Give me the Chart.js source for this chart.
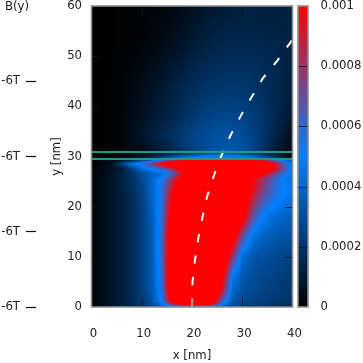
<!DOCTYPE html>
<html><head><meta charset="utf-8">
<style>html,body{margin:0;padding:0;background:#fff}canvas{display:block}</style>
<script src="https://cdn.jsdelivr.net/npm/chart.js@4"></script>
</head><body><canvas id="c" width="363" height="363"></canvas>
<script>
const colX = [0,2,4,6,8,10,12,14,16,18,20,22,24,26,28,30,32,34,36,38,40];
const rowY = [0,0.5,1,3,6,10,14,18,22,24,25.5,26.5,27.5,28.6,29.2,29.7,30.5,31.5,34,38,44,52,60];
// intensity in units of 1e-5, one row per rowY entry
const intensity = [
[1,3,6,10,14,20,26,34,42,50,55,52,46,36,28,24,22,20,18,16,15],
[2,4,8,12,16,21,29,42,72,98,108,104,92,48,30,26,24,22,20,18,17],
[2,4,8,12,16,22,31,50,105,125,130,130,115,60,33,28,26,24,22,21,20],
[2,4,8,12,17,24,34,56,125,150,160,155,135,88,40,31,28,26,24,22,21],
[2,4,8,12,17,24,35,58,130,160,170,170,150,105,48,34,30,28,26,24,22],
[2,4,8,12,17,24,35,60,130,165,180,180,170,130,80,42,34,31,29,27,25],
[2,4,8,12,17,24,35,60,125,165,185,190,185,165,115,70,45,38,35,33,31],
[2,4,8,12,17,24,36,58,112,160,185,195,195,180,150,110,70,50,42,39,37],
[2,4,8,12,17,25,38,56,100,150,180,195,195,185,160,115,92,70,58,50,44],
[2,4,8,12,18,26,39,56,88,130,170,190,195,185,160,125,98,78,62,52,47],
[2,4,8,12,19,28,40,52,80,115,160,185,190,185,165,130,100,82,64,50,42],
[2,4,8,12,19,28,36,42,60,92,125,160,180,185,170,150,125,100,78,58,44],
[1,3,6,10,24,40,52,60,80,108,140,170,180,185,175,160,145,130,105,72,48],
[1,3,6,25,45,58,75,105,140,165,175,180,180,180,175,160,145,125,100,70,42],
[0,2,4,8,16,28,40,60,80,95,105,110,112,112,110,105,100,90,70,50,30],
[0,1,2,4,8,12,18,26,36,46,52,58,60,60,58,52,46,38,26,15,7],
[0,1,1,2,3,5,8,12,17,22,27,31,34,36,36,33,28,21,13,7,2],
[0,0,1,2,3,5,8,11,15,20,24,28,31,33,34,32,27,20,13,8,3],
[0,0,1,2,5,8,12,15,19,23,26,29,31,32,32,30,26,21,15,10,5],
[0,0,1,2,4,6,9,12,15,18,21,24,26,27,27,26,24,21,17,13,9],
[0,0,1,1,3,5,7,9,12,15,17,19,20,21,21,21,20,18,16,14,11],
[0,0,0,1,1,2,3,4,6,8,10,12,14,15,16,16,16,15,15,14,13],
[0,0,0,1,1,1,2,2,3,4,6,7,9,10,11,12,12,12,12,12,12]
];
const pathX = [20,20.1,20.6,21.25,22.1,23,24.4,25.9,27.7,29.7,31.9,34.1,36.9,39.5,40];
const pathY = [0,5,9.4,13.7,18,22,26.3,30.3,34.3,38.1,41.9,45.6,49,52.6,53.4];
const lineLow = 29.5, lineHigh = 30.9;
const xTicks = [0,10,20,30,40];
const yTicks = [0,10,20,30,40,50,60];
const bTicks = [0,15,30,45];
const bLabel = '-6T', bTitle = 'B(y)';
const cbTicks = [0,0.0002,0.0004,0.0006,0.0008,0.001];
const cbLabels = ['0','0.0002','0.0004','0.0006','0.0008','0.001'];
const UNIT = 1e-5, FONT = 'DejaVu Sans';

function colour(v){
  const t = Math.max(0, Math.min(1, v/0.001));
  if (t < 0.5) { const s = t/0.5; return [0, 128*s, 255*s]; }
  const s = (t-0.5)/0.5; return [255*s, 128*(1-s), 255*(1-s)];
}
function seg(a, q){
  let i = 0; while (i < a.length-2 && q > a[i+1]) i++;
  return [i, Math.max(0, Math.min(1, (q-a[i])/(a[i+1]-a[i])))];
}
function sample(x, y){
  const [i,u] = seg(colX, x), [j,w] = seg(rowY, y);
  const r0 = intensity[j], r1 = intensity[j+1];
  return ((r0[i]*(1-u)+r0[i+1]*u)*(1-w) + (r1[i]*(1-u)+r1[i+1]*u)*w)*UNIT;
}
const frame = '#8e8e8e', tickInk = 'rgba(10,20,30,0.85)';
const painter = {
  id:'painter',
  beforeDatasetsDraw(ch){
    const {ctx, chartArea:a, scales:s} = ch;
    const L=Math.round(a.left), T=Math.round(a.top), W=Math.round(a.right)-L, H=Math.round(a.bottom)-T;
    const off=document.createElement('canvas'); off.width=W; off.height=H;
    const oc=off.getContext('2d'), im=oc.createImageData(W,H);
    for(let py=0;py<H;py++){
      const yv=s.y.getValueForPixel(T+py+0.5);
      for(let px=0;px<W;px++){
        const c=colour(sample(s.x.getValueForPixel(L+px+0.5),yv)), k=(py*W+px)*4;
        im.data[k]=c[0];im.data[k+1]=c[1];im.data[k+2]=c[2];im.data[k+3]=255;
      }
    }
    oc.putImageData(im,0,0); ctx.drawImage(off,L,T);
  },
  afterDatasetsDraw(ch){
    const {ctx, chartArea:a, scales:s} = ch;
    const barL=298, barR=308;
    ctx.save();
    for(let py=Math.round(a.top);py<Math.round(a.bottom);py++){
      const c=colour(s.cb.getValueForPixel(py+0.5));
      ctx.fillStyle=`rgb(${c[0]},${c[1]},${c[2]})`;
      ctx.fillRect(barL,py,barR-barL,1);
    }
    ctx.strokeStyle=tickInk; ctx.lineWidth=1;
    ctx.beginPath();
    cbTicks.slice(1,-1).forEach(v=>{const p=Math.round(s.cb.getPixelForValue(v))+0.5;ctx.moveTo(barL,p);ctx.lineTo(barR,p);});
    xTicks.slice(1,-1).forEach(v=>{
      const p=Math.round(s.x.getPixelForValue(v))+0.5;
      ctx.moveTo(p,a.top);ctx.lineTo(p,a.top+10);
      if(v!==20){ctx.moveTo(p,a.bottom);ctx.lineTo(p,a.bottom-10);}
    });
    yTicks.slice(1,-1).forEach(v=>{
      const p=Math.round(s.y.getPixelForValue(v))+0.5;
      ctx.moveTo(a.left,p);ctx.lineTo(a.left+7,p);
      ctx.moveTo(a.right,p);ctx.lineTo(a.right-7,p);
    });
    ctx.stroke();
    ctx.strokeStyle='#9a9a9a'; ctx.lineWidth=2;
    ctx.beginPath();
    const p20=Math.round(s.x.getPixelForValue(20));
    ctx.moveTo(p20,a.bottom);ctx.lineTo(p20,a.bottom-8);ctx.stroke();
    ctx.strokeStyle=frame; ctx.lineWidth=1.6;
    ctx.strokeRect(a.left,a.top,a.right-a.left,a.bottom-a.top);
    ctx.strokeRect(barL,a.top,barR-barL,a.bottom-a.top);
    ctx.fillStyle='#222'; ctx.font='11.7px "'+FONT+'"'; ctx.textAlign='left'; ctx.textBaseline='middle';
    ctx.fillText(bTitle,5,7);
    ctx.restore();
  }
};
const tickFont={family:FONT,size:11.7};
const noPad = a=>{a.paddingTop=0;a.paddingBottom=0;a.paddingLeft=0;a.paddingRight=0;};
new Chart(document.getElementById('c'),{
  type:'scatter',
  data:{datasets:[
    {data:pathX.map((x,i)=>({x,y:pathY[i]})),showLine:true,borderColor:'#fff',borderWidth:2,borderDash:[8.5,13.2],pointRadius:0,tension:0,order:2},
    {data:[{x:0,y:lineLow},{x:40,y:lineLow}],showLine:true,borderColor:'#1c9a86',borderWidth:2,pointRadius:0,order:1},
    {data:[{x:0,y:lineHigh},{x:40,y:lineHigh}],showLine:true,borderColor:'#1c9a86',borderWidth:2,pointRadius:0,order:1}
  ]},
  options:{
    responsive:false,animation:false,
    layout:{padding:{top:6,left:0,right:0,bottom:0},autoPadding:false},
    plugins:{legend:{display:false},title:{display:false},tooltip:{enabled:false}},
    scales:{
      x:{type:'linear',min:0,max:40,position:'bottom',
        afterBuildTicks:a=>{a.ticks=xTicks.map(value=>({value}));},
        grid:{display:false,drawTicks:false},border:{display:false},
        afterFit:a=>{a.height=56;noPad(a);},
        ticks:{font:tickFont,color:'#222',padding:20,labelOffset:2,maxRotation:0,autoSkip:false},
        title:{display:true,text:'x [nm]',font:tickFont,color:'#222',padding:{top:8,bottom:0}}},
      y:{type:'linear',min:0,max:60,position:'left',weight:0,
        afterBuildTicks:a=>{a.ticks=yTicks.map(value=>({value}));},
        grid:{display:false,drawTicks:false},border:{display:false},
        afterFit:a=>{a.width=55.5;noPad(a);},
        ticks:{font:tickFont,color:'#222',padding:9.5,autoSkip:false},
        title:{display:true,text:'y [nm]',font:tickFont,color:'#222',padding:{top:14,bottom:0}}},
      b:{type:'linear',min:0,max:60,position:'left',weight:10,
        afterBuildTicks:a=>{a.ticks=bTicks.map(value=>({value}));},
        grid:{drawOnChartArea:false,drawTicks:true,tickLength:10,color:'#111',tickColor:'#111',tickWidth:1.2},border:{display:false},
        afterFit:a=>{a.width=36;noPad(a);},
        ticks:{font:tickFont,color:'#222',padding:6,autoSkip:false,callback:()=>bLabel}},
      cb:{type:'linear',min:0,max:0.001,position:'right',
        afterBuildTicks:a=>{a.ticks=cbTicks.map(value=>({value}));},
        grid:{display:false,drawTicks:false},border:{display:false},
        afterFit:a=>{a.width=70.5;noPad(a);},
        ticks:{font:tickFont,color:'#222',padding:28,autoSkip:false,
          callback:v=>cbLabels[Math.round(v/0.0002)]}}
    }
  },
  plugins:[painter]
});
</script></body></html>
